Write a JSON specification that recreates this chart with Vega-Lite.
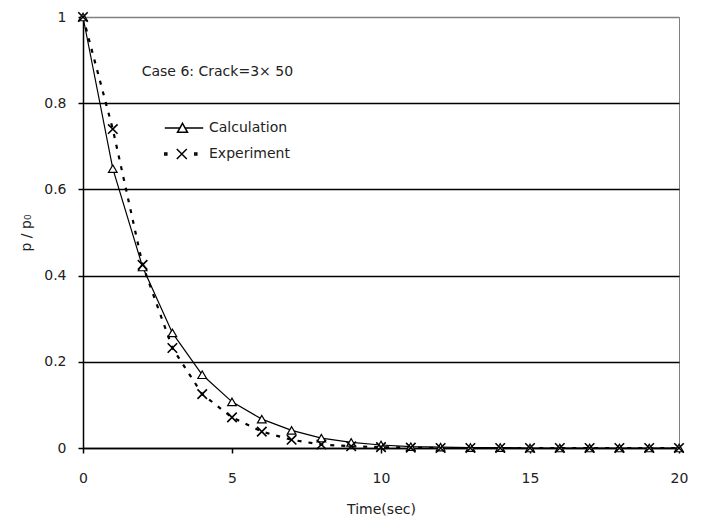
{
  "$schema": "https://vega.github.io/schema/vega-lite/v6.json",
  "width": 596,
  "height": 431,
  "autosize": {"type": "none"},
  "padding": {"left": 83, "top": 17, "right": 24, "bottom": 74},
  "background": "white",
  "config": {
    "font": "DejaVu Sans",
    "view": {"stroke": "#808080", "strokeWidth": 1},
    "axis": {
      "labelFont": "DejaVu Sans", "labelFontSize": 14, "labelColor": "#222",
      "titleFont": "DejaVu Sans", "titleFontSize": 14, "titleFontWeight": "normal", "titleColor": "#222",
      "domainColor": "black", "domainWidth": 1.5, "tickColor": "black", "tickWidth": 1.5, "tickSize": 5
    },
    "legend": {
      "orient": "none", "legendX": 90, "legendY": 100, "padding": 0,
      "symbolSize": 400, "labelOffset": 14, "rowPadding": 7,
      "labelFont": "DejaVu Sans", "labelFontSize": 14, "labelColor": "#222"
    }
  },
  "datasets": {
    "curves": [
      {"t": 0, "series": "Calculation", "p": 1},
      {"t": 1, "series": "Calculation", "p": 0.648},
      {"t": 2, "series": "Calculation", "p": 0.42},
      {"t": 3, "series": "Calculation", "p": 0.267},
      {"t": 4, "series": "Calculation", "p": 0.17},
      {"t": 5, "series": "Calculation", "p": 0.107},
      {"t": 6, "series": "Calculation", "p": 0.067},
      {"t": 7, "series": "Calculation", "p": 0.041},
      {"t": 8, "series": "Calculation", "p": 0.023},
      {"t": 9, "series": "Calculation", "p": 0.013},
      {"t": 10, "series": "Calculation", "p": 0.007},
      {"t": 11, "series": "Calculation", "p": 0.003},
      {"t": 12, "series": "Calculation", "p": 0.002},
      {"t": 13, "series": "Calculation", "p": 0.001},
      {"t": 14, "series": "Calculation", "p": 0.001},
      {"t": 15, "series": "Calculation", "p": 0.0},
      {"t": 16, "series": "Calculation", "p": 0.0},
      {"t": 17, "series": "Calculation", "p": 0.0},
      {"t": 18, "series": "Calculation", "p": 0.0},
      {"t": 19, "series": "Calculation", "p": 0.0},
      {"t": 20, "series": "Calculation", "p": 0.0},
      {"t": 0, "series": "Experiment", "p": 1},
      {"t": 1, "series": "Experiment", "p": 0.74},
      {"t": 2, "series": "Experiment", "p": 0.425},
      {"t": 3, "series": "Experiment", "p": 0.232},
      {"t": 4, "series": "Experiment", "p": 0.125},
      {"t": 5, "series": "Experiment", "p": 0.071},
      {"t": 6, "series": "Experiment", "p": 0.038},
      {"t": 7, "series": "Experiment", "p": 0.019},
      {"t": 8, "series": "Experiment", "p": 0.008},
      {"t": 9, "series": "Experiment", "p": 0.004},
      {"t": 10, "series": "Experiment", "p": 0.002},
      {"t": 11, "series": "Experiment", "p": 0.001},
      {"t": 12, "series": "Experiment", "p": 0.0},
      {"t": 13, "series": "Experiment", "p": 0.0},
      {"t": 14, "series": "Experiment", "p": 0.0},
      {"t": 15, "series": "Experiment", "p": 0.0},
      {"t": 16, "series": "Experiment", "p": 0.0},
      {"t": 17, "series": "Experiment", "p": 0.0},
      {"t": 18, "series": "Experiment", "p": 0.0},
      {"t": 19, "series": "Experiment", "p": 0.0},
      {"t": 20, "series": "Experiment", "p": 0.0}
    ],
    "note": [{"text": "Case 6: Crack=3×  50"}]
  },
  "data": {"name": "curves"},
  "layer": [
    {
      "transform": [{"filter": "datum.series === 'Calculation'"}],
      "mark": {"type": "line", "color": "black", "strokeWidth": 1.2},
      "encoding": {
        "x": {"field": "t", "type": "quantitative",
          "scale": {"domain": [0, 20], "nice": false},
          "axis": {"values": [0, 5, 10, 15, 20], "grid": false, "labelFlush": false, "title": "Time(sec)", "labelPadding": 18, "titlePadding": 17}},
        "y": {"field": "p", "type": "quantitative",
          "scale": {"domain": [0, 1], "nice": false},
          "axis": {"values": [0, 0.2, 0.4, 0.6, 0.8, 1], "format": "~g", "grid": true, "labelFlush": false,
            "gridColor": {"condition": {"test": "datum.value === 1", "value": "#808080"}, "value": "black"},
            "gridWidth": 1.5,
            "title": "p /   p₀", "labelPadding": 12, "titlePadding": 10}}
      }
    },
    {
      "transform": [{"filter": "datum.series === 'Experiment'"}],
      "mark": {"type": "line", "color": "black", "strokeWidth": 2.2, "strokeDash": [4, 7]},
      "encoding": {
        "x": {"field": "t", "type": "quantitative"},
        "y": {"field": "p", "type": "quantitative"}
      }
    },
    {
      "transform": [{"filter": "datum.series === 'Calculation'"}],
      "mark": {"type": "point", "shape": "triangle-up", "size": 75, "filled": true, "fill": "white", "stroke": "black", "strokeWidth": 1.2, "opacity": 1},
      "encoding": {
        "x": {"field": "t", "type": "quantitative"},
        "y": {"field": "p", "type": "quantitative"}
      }
    },
    {
      "transform": [{"filter": "datum.series === 'Experiment'"}],
      "mark": {"type": "point", "shape": "M-1,-1L1,1M1,-1L-1,1", "size": 90, "filled": false, "stroke": "black", "strokeWidth": 1.6, "opacity": 1},
      "encoding": {
        "x": {"field": "t", "type": "quantitative"},
        "y": {"field": "p", "type": "quantitative"}
      }
    },
    {
      "mark": {"type": "point", "filled": false, "color": "black", "opacity": 0},
      "encoding": {
        "x": {"field": "t", "type": "quantitative"},
        "y": {"field": "p", "type": "quantitative"},
        "shape": {"field": "series", "type": "nominal",
          "scale": {"domain": ["Calculation", "Experiment"],
            "range": ["M-1.92,0H-0.41M0.11,0H1.92M-0.15,-0.47L0.35,0.43H-0.65Z",
                      "M-1.92,-0.1h0.2v0.2h-0.2zM1.08,-0.1h0.2v0.2h-0.2zM-0.72,-0.5L0.28,0.5M0.28,-0.5L-0.72,0.5"]},
          "legend": {"title": null,
            "encode": {"symbols": {"update": {
              "opacity": {"value": 1},
              "stroke": {"value": "black"},
              "strokeWidth": {"value": 1.5},
              "fill": {"signal": "datum.value === 'Experiment' ? 'black' : 'white'"}
            }}}}}
      }
    },
    {
      "data": {"name": "note"},
      "mark": {"type": "text", "align": "left", "baseline": "middle", "fontSize": 14, "color": "#222", "font": "DejaVu Sans"},
      "encoding": {
        "x": {"datum": 1.97, "type": "quantitative"},
        "y": {"datum": 0.873, "type": "quantitative"},
        "text": {"field": "text"}
      }
    }
  ]
}
